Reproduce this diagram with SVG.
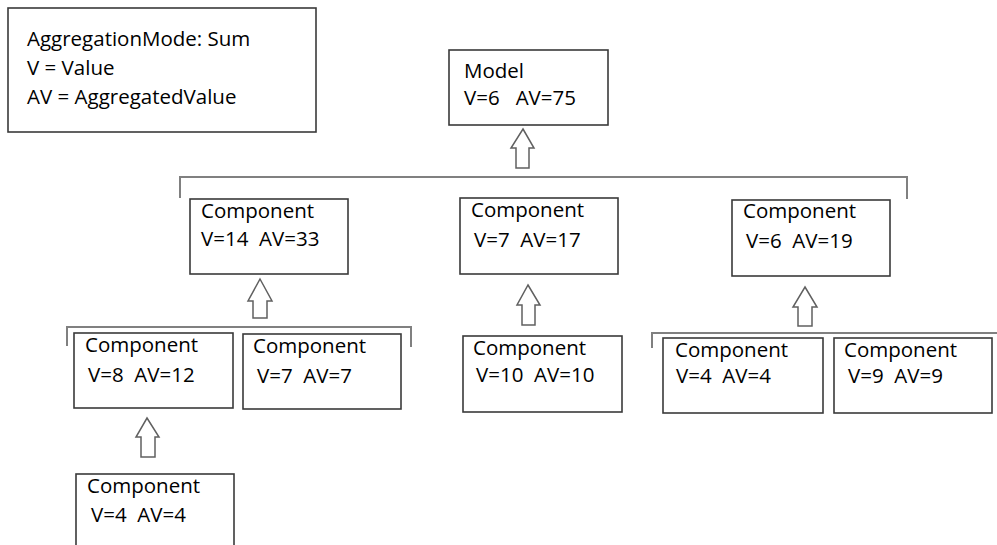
<svg xmlns="http://www.w3.org/2000/svg" width="997" height="545" viewBox="0 0 997 545">
<style>
.box{fill:#fff;stroke:#3a3a3a;stroke-width:1.6}
.t{font-family:"Open Sans","Noto Sans",sans-serif;font-size:20.5px;fill:#000}
.br{fill:none;stroke:#808080;stroke-width:2}
.ar{fill:#fff;stroke:#606060;stroke-width:1.5;stroke-linejoin:miter}
</style>
<rect width="997" height="545" fill="#fff"/>
<g id="legend">
<rect class="box" x="8" y="8" width="308" height="124"/>
<text class="t" x="27" y="46">AggregationMode: Sum</text>
<text class="t" x="27" y="75">V = Value</text>
<text class="t" x="27" y="104">AV = AggregatedValue</text>
</g>
<g id="model">
<rect class="box" x="449" y="50" width="159" height="75"/>
<text class="t" x="464" y="78">Model</text>
<text class="t" x="464" y="105" xml:space="preserve">V=6   AV=75</text>
</g>
<g id="c14">
<rect class="box" x="190" y="199" width="158" height="75"/>
<text class="t" x="201" y="218">Component</text>
<text class="t" x="201" y="246" xml:space="preserve">V=14  AV=33</text>
</g>
<g id="c7a">
<rect class="box" x="460" y="198" width="158" height="76"/>
<text class="t" x="471" y="217">Component</text>
<text class="t" x="474" y="247" xml:space="preserve">V=7  AV=17</text>
</g>
<g id="c6">
<rect class="box" x="732" y="200" width="158" height="76"/>
<text class="t" x="743" y="218">Component</text>
<text class="t" x="746" y="248" xml:space="preserve">V=6  AV=19</text>
</g>
<g id="c8">
<rect class="box" x="74" y="333" width="159" height="75"/>
<text class="t" x="85" y="352">Component</text>
<text class="t" x="88" y="382" xml:space="preserve">V=8  AV=12</text>
</g>
<g id="c7b">
<rect class="box" x="243" y="334" width="158" height="75"/>
<text class="t" x="253" y="353">Component</text>
<text class="t" x="257" y="383" xml:space="preserve">V=7  AV=7</text>
</g>
<g id="c10">
<rect class="box" x="463" y="336" width="159" height="76"/>
<text class="t" x="473" y="355">Component</text>
<text class="t" x="476" y="382" xml:space="preserve">V=10  AV=10</text>
</g>
<g id="c4a">
<rect class="box" x="663" y="338" width="160" height="75"/>
<text class="t" x="675" y="357">Component</text>
<text class="t" x="676" y="383" xml:space="preserve">V=4  AV=4</text>
</g>
<g id="c9">
<rect class="box" x="834" y="338" width="158" height="75"/>
<text class="t" x="844" y="357">Component</text>
<text class="t" x="848" y="383" xml:space="preserve">V=9  AV=9</text>
</g>
<g id="c4b">
<rect class="box" x="76" y="474" width="158" height="90"/>
<text class="t" x="87" y="493">Component</text>
<text class="t" x="91" y="522" xml:space="preserve">V=4  AV=4</text>
</g>
<g id="connectors">
<path class="br" d="M180,198 V177 H907 V199"/>
<path class="br" d="M67,346 V327 H411 V347"/>
<path class="br" d="M652,348 V333 H997"/>
<path class="ar" d="M523,129 L534,148 L529,148 L529,168 L516,168 L516,148 L511,148 Z"/>
<path class="ar" d="M260,279 L272,301 L267,301 L267,318 L253,318 L253,301 L248,301 Z"/>
<path class="ar" d="M528,285 L540,305 L535,305 L535,325 L522,325 L522,305 L517,305 Z"/>
<path class="ar" d="M805,287 L817,307 L812,307 L812,326 L798,326 L798,307 L793,307 Z"/>
<path class="ar" d="M147,418 L159,437 L155,437 L155,457 L141,457 L141,437 L136,437 Z"/>
</g>
</svg>
